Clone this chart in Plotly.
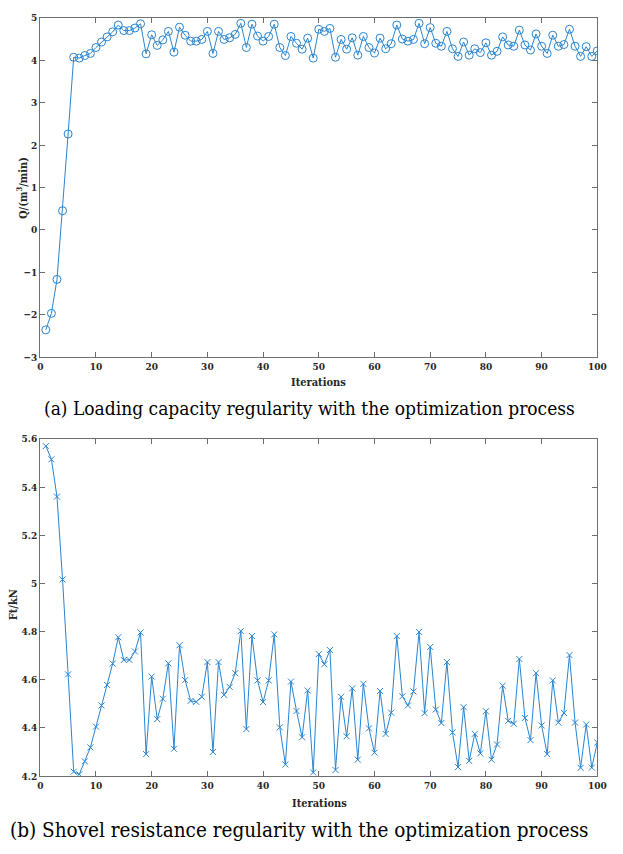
import plotly.graph_objects as go

iterations = list(range(1, 101))

q_values = [
    -2.36, -1.97, -1.17, 0.45, 2.26, 4.07, 4.05, 4.11, 4.16, 4.30,
    4.43, 4.55, 4.67, 4.83, 4.70, 4.70, 4.76, 4.86, 4.15, 4.60,
    4.35, 4.48, 4.68, 4.19, 4.78, 4.59, 4.45, 4.45, 4.49, 4.68,
    4.16, 4.68, 4.49, 4.53, 4.61, 4.87, 4.30, 4.85, 4.57, 4.45,
    4.56, 4.85, 4.30, 4.11, 4.56, 4.40, 4.26, 4.52, 4.05, 4.73,
    4.68, 4.75, 4.07, 4.49, 4.26, 4.53, 4.12, 4.56, 4.30, 4.17,
    4.52, 4.27, 4.39, 4.83, 4.50, 4.45, 4.49, 4.87, 4.39, 4.77,
    4.40, 4.33, 4.68, 4.27, 4.09, 4.43, 4.12, 4.27, 4.18, 4.41,
    4.12, 4.21, 4.55, 4.36, 4.33, 4.71, 4.36, 4.24, 4.62, 4.33,
    4.16, 4.59, 4.33, 4.37, 4.73, 4.33, 4.09, 4.32, 4.09, 4.22,
]

ft_values = [
    5.570, 5.515, 5.360, 5.016, 4.622, 4.218, 4.207, 4.261, 4.319, 4.405,
    4.493, 4.578, 4.667, 4.776, 4.682, 4.682, 4.717, 4.796, 4.291, 4.613,
    4.436, 4.521, 4.668, 4.313, 4.743, 4.598, 4.512, 4.508, 4.529, 4.673,
    4.300, 4.673, 4.537, 4.570, 4.627, 4.802, 4.395, 4.781, 4.597, 4.507,
    4.597, 4.788, 4.402, 4.248, 4.592, 4.470, 4.361, 4.555, 4.215, 4.706,
    4.664, 4.723, 4.225, 4.529, 4.365, 4.564, 4.268, 4.583, 4.398, 4.297,
    4.553, 4.375, 4.463, 4.781, 4.531, 4.493, 4.551, 4.798, 4.461, 4.736,
    4.476, 4.420, 4.673, 4.381, 4.237, 4.486, 4.263, 4.375, 4.294, 4.469,
    4.268, 4.331, 4.575, 4.429, 4.417, 4.686, 4.441, 4.349, 4.627, 4.410,
    4.291, 4.597, 4.422, 4.462, 4.702, 4.422, 4.234, 4.414, 4.235, 4.339,
]

x_ticks = [0, 10, 20, 30, 40, 50, 60, 70, 80, 90, 100]
q_ticks = [-3, -2, -1, 0, 1, 2, 3, 4, 5]
ft_ticks = [4.2, 4.4, 4.6, 4.8, 5.0, 5.2, 5.4, 5.6]
ft_tick_text = ["4.2", "4.4", "4.6", "4.8", "5", "5.2", "5.4", "5.6"]

W, H = 623, 854
LINE = "#2a84cf"
AX = "#6e6e6e"
TXT = "#262626"
SERIF = "DejaVu Serif Condensed, DejaVu Serif, serif"
TICKFONT = dict(family=SERIF, size=10, color=TXT, weight="bold")

def py(p):
    return 1 - p / H

fig = go.Figure()
fig.add_trace(go.Scatter(
    x=iterations, y=q_values, mode="lines+markers",
    line=dict(color=LINE, width=1),
    marker=dict(symbol="circle-open", size=8, color=LINE, line=dict(width=1, color=LINE)),
    xaxis="x", yaxis="y", showlegend=False,
))
fig.add_trace(go.Scatter(
    x=iterations, y=ft_values, mode="lines+markers",
    line=dict(color=LINE, width=1),
    marker=dict(symbol="x-thin-open", size=6, color=LINE, line=dict(width=1, color=LINE)),
    xaxis="x2", yaxis="y2", showlegend=False,
))

xdom = [38 / W, 606 / W]
common_x = dict(range=[0, 100], tickvals=x_ticks, showline=True, linecolor=AX, linewidth=1,
                mirror="ticks", ticks="inside", ticklen=5, tickcolor=AX, showgrid=False,
                zeroline=False, tickfont=TICKFONT, domain=xdom)
common_y = dict(showline=True, linecolor=AX, linewidth=1, mirror="ticks", ticks="inside",
                ticklen=5, tickcolor=AX, showgrid=False, zeroline=False, tickfont=TICKFONT)

fig.update_layout(
    width=W, height=H,
    margin=dict(l=0, r=0, t=0, b=0, pad=0),
    paper_bgcolor="white", plot_bgcolor="white",
    font=dict(family=SERIF),
    xaxis=dict(common_x, anchor="y"),
    yaxis=dict(common_y, range=[-3, 5], tickvals=q_ticks, anchor="x",
               domain=[py(356), py(12)]),
    xaxis2=dict(common_x, anchor="y2"),
    yaxis2=dict(common_y, range=[4.2, 5.6], tickvals=ft_ticks, ticktext=ft_tick_text,
                anchor="x2", domain=[py(781), py(439)]),
)

ann_font = dict(family=SERIF, size=11, color=TXT, weight="bold")
fig.add_annotation(text="Iterations", x=322 / W, y=py(382), xref="paper", yref="paper",
                   showarrow=False, font=ann_font, xanchor="center", yanchor="middle")
fig.add_annotation(text="Iterations", x=323 / W, y=py(809), xref="paper", yref="paper",
                   showarrow=False, font=ann_font, xanchor="center", yanchor="middle")
fig.add_annotation(text="Q/(m<sup>3</sup>/min)", x=20 / W, y=py(185), xref="paper", yref="paper",
                   showarrow=False, font=ann_font, textangle=-90, xanchor="center", yanchor="middle")
fig.add_annotation(text="Ft/kN", x=11 / W, y=py(607), xref="paper", yref="paper",
                   showarrow=False, font=ann_font, textangle=-90, xanchor="center", yanchor="middle")

fig.add_annotation(text="(a) Loading capacity regularity with the optimization process",
                   x=40 / W, y=py(408), xref="paper", yref="paper", showarrow=False,
                   font=dict(family=SERIF, size=19, color="black"),
                   xanchor="left", yanchor="middle")
fig.add_annotation(text="(b) Shovel resistance regularity with the optimization process",
                   x=5 / W, y=py(836), xref="paper", yref="paper", showarrow=False,
                   font=dict(family=SERIF, size=20.5, color="black"),
                   xanchor="left", yanchor="middle")

fig.write_html("out.html")
